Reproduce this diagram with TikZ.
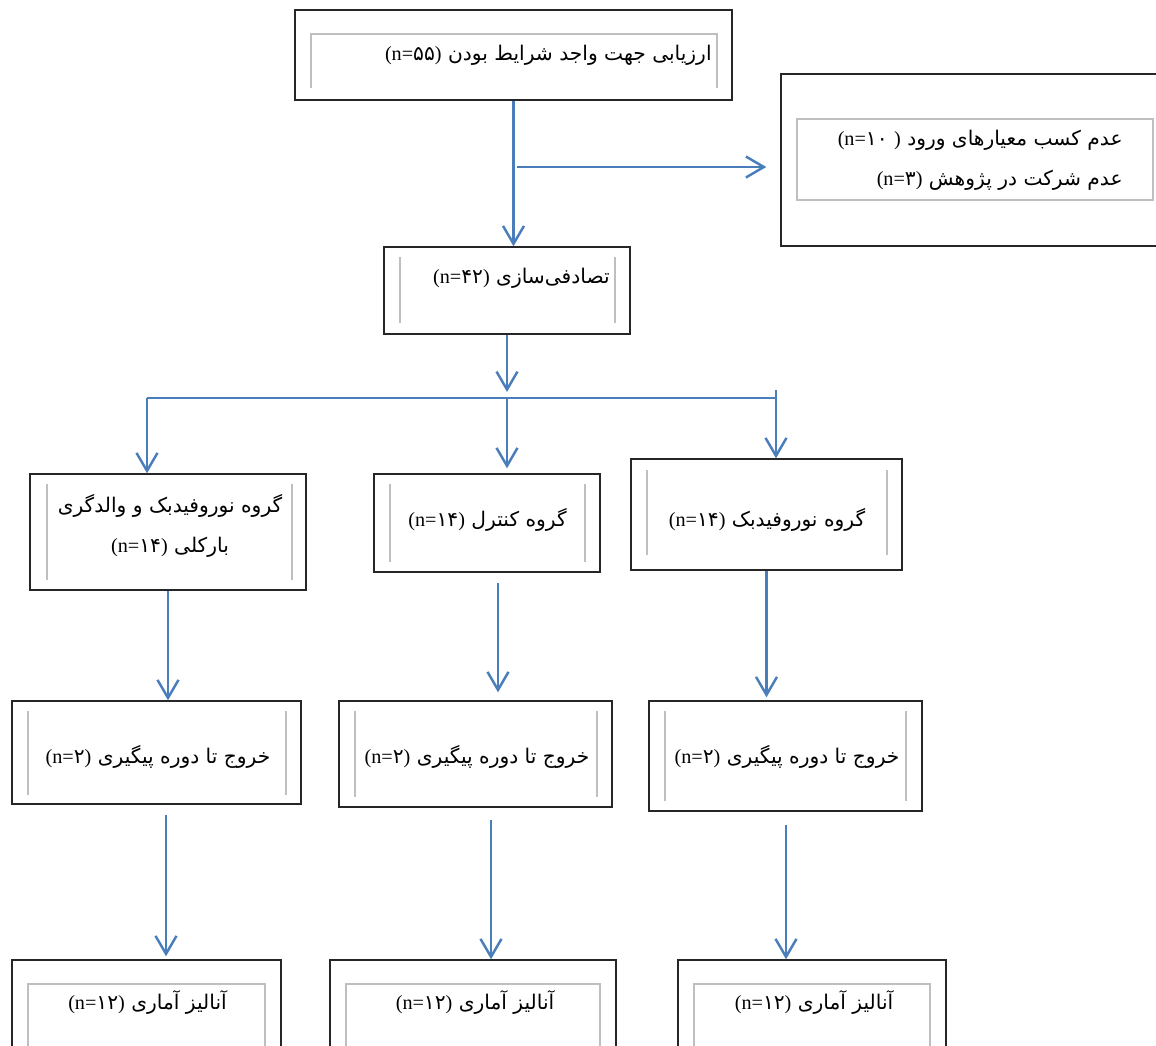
\documentclass[tikz,border=0pt]{standalone}
\usepackage{fontspec}
\setmainfont{Liberation Serif}
\newfontfamily\fa[Script=Arabic]{DejaVu Sans}
\TeXXeTstate=1
\usetikzlibrary{arrows.meta,positioning,calc}
\definecolor{flowblue}{RGB}{74,126,187}
\newcommand{\nval}[1]{\beginL{\rmfamily(n=}{\fa#1}{\rmfamily)}\endL}

\begin{document}
\begin{tikzpicture}[x=0.02cm, y=-0.02cm,
    box/.style={draw=black!85, line width=0.8pt, inner sep=0pt},
    inline/.style={draw=black!25, line width=0.8pt},
    txt/.style={font=\fa\fontsize{11.5}{22.7}\selectfont, inner sep=0pt},
    flow/.style={draw=flowblue, line width=1.4pt, -{Straight Barb[length=3.6mm,width=4.2mm]}},
    flowline/.style={draw=flowblue, line width=1.4pt}]
    \useasboundingbox (0,0) rectangle (1156,1045);

    % Screening and exclusion
    \node[box, line width=1.2pt, minimum width=8.74cm, minimum height=1.8cm] (top) at (513.5,55) {};
    \draw[inline] (311,88) -- (311,34) -- (717,34) -- (717,88);
    \node[txt, anchor=east] (topT) at (712,55) {\beginR ارزیابی جهت واجد شرایط بودن \nval{۵۵}\endR};

    \node[box, minimum width=7.88cm, minimum height=3.44cm] (excl) at (978,160) {};
    \draw[inline] (797,119) rectangle (1153,200);
    \node[txt, anchor=east, align=right] (exclT) at (1123,160)
        {\beginR عدم کسب معیارهای ورود {\rmfamily)} \beginL{\rmfamily(n=}{\fa ۱۰}\endL\endR\\\beginR عدم شرکت در پژوهش \nval{۳}\endR};

    % Randomisation
    \node[box, minimum width=4.92cm, minimum height=1.74cm] (rnd) at (507,290.5) {};
    \draw[inline] (400,257) -- (400,323);
    \draw[inline] (615,257) -- (615,323);
    \node[txt, anchor=east] (rndT) at (610,278) {\beginR تصادفی‌سازی \nval{۴۲}\endR};

    % Groups
    \node[box, minimum width=5.52cm, minimum height=2.32cm] (gA) at (168,532) {};
    \draw[inline] (47,484) -- (47,580);
    \draw[inline] (292,484) -- (292,580);
    \node[txt, align=center] (gAT) at (170,526)
        {\beginR گروه نوروفیدبک و والدگری\endR\\\beginR بارکلی \nval{۱۴}\endR};

    \node[box, minimum width=4.52cm, minimum height=1.96cm] (gB) at (487,523) {};
    \draw[inline] (390,484) -- (390,562);
    \draw[inline] (585,484) -- (585,562);
    \node[txt] (gBT) at (487.5,520) {\beginR گروه کنترل \nval{۱۴}\endR};

    \node[box, minimum width=5.42cm, minimum height=2.22cm] (gC) at (766.5,514.5) {};
    \draw[inline] (647,470) -- (647,555);
    \draw[inline] (887,470) -- (887,555);
    \node[txt] (gCT) at (767,520) {\beginR گروه نوروفیدبک \nval{۱۴}\endR};

    % Follow-up
    \node[box, minimum width=5.78cm, minimum height=2.06cm] (fA) at (156.5,752.5) {};
    \draw[inline] (28,711) -- (28,795);
    \draw[inline] (286,711) -- (286,795);
    \node[txt] (fAT) at (158,757) {\beginR خروج تا دوره پیگیری \nval{۲}\endR};

    \node[box, minimum width=5.46cm, minimum height=2.12cm] (fB) at (475.5,754) {};
    \draw[inline] (355,711) -- (355,797);
    \draw[inline] (597,711) -- (597,797);
    \node[txt] (fBT) at (477,757) {\beginR خروج تا دوره پیگیری \nval{۲}\endR};

    \node[box, minimum width=5.46cm, minimum height=2.2cm] (fC) at (785.5,756) {};
    \draw[inline] (665,711) -- (665,801);
    \draw[inline] (906,711) -- (906,801);
    \node[txt] (fCT) at (787,757) {\beginR خروج تا دوره پیگیری \nval{۲}\endR};

    % Analysis
    \node[box, minimum width=5.38cm, minimum height=2.4cm] (aA) at (146.5,1020) {};
    \draw[inline] (28,1060) -- (28,984) -- (265,984) -- (265,1060);
    \node[txt] (aAT) at (147.5,1002) {\beginR آنالیز آماری \nval{۱۲}\endR};

    \node[box, minimum width=5.72cm, minimum height=2.4cm] (aB) at (473,1020) {};
    \draw[inline] (346,1060) -- (346,984) -- (600,984) -- (600,1060);
    \node[txt] (aBT) at (475,1002) {\beginR آنالیز آماری \nval{۱۲}\endR};

    \node[box, minimum width=5.36cm, minimum height=2.4cm] (aC) at (812,1020) {};
    \draw[inline] (694,1060) -- (694,984) -- (930,984) -- (930,1060);
    \node[txt] (aCT) at (814,1002) {\beginR آنالیز آماری \nval{۱۲}\endR};

    % Arrows
    \draw[flow] (top.south) -- (top.south |- rnd.north);
    \coordinate (brk) at (517,167);
    \draw[flow, shorten >=0.28cm] (brk) -- (brk -| excl.west);

    \coordinate (split) at (507,398);
    \coordinate (busA) at (147,398);
    \coordinate (busC) at (776,390);
    \draw[flow, shorten >=0.12cm] (rnd.south) -- (split);
    \draw[flowline] (busA) -- (busA -| busC);
    \draw[flow] (busA) -- (busA |- gA.north);
    \draw[flow, shorten >=0.1cm] (split) -- (split |- gB.north);
    \draw[flow] (busC) -- (busC |- gC.north);

    \draw[flow] (gA.south) -- (gA.south |- fA.north);
    \coordinate (gBo) at (498,583);
    \draw[flow, shorten >=0.16cm] (gBo) -- (gBo |- fB.north);
    \draw[flow, shorten >=0.06cm] (gC.south) -- (gC.south |- fC.north);

    \coordinate (fAo) at (166,815);
    \draw[flow, shorten >=0.06cm] (fAo) -- (fAo |- aA.north);
    \coordinate (fBo) at (491,820);
    \draw[flow] (fBo) -- (fBo |- aB.north);
    \coordinate (fCo) at (786,825);
    \draw[flow] (fCo) -- (fCo |- aC.north);
\end{tikzpicture}
\end{document}
